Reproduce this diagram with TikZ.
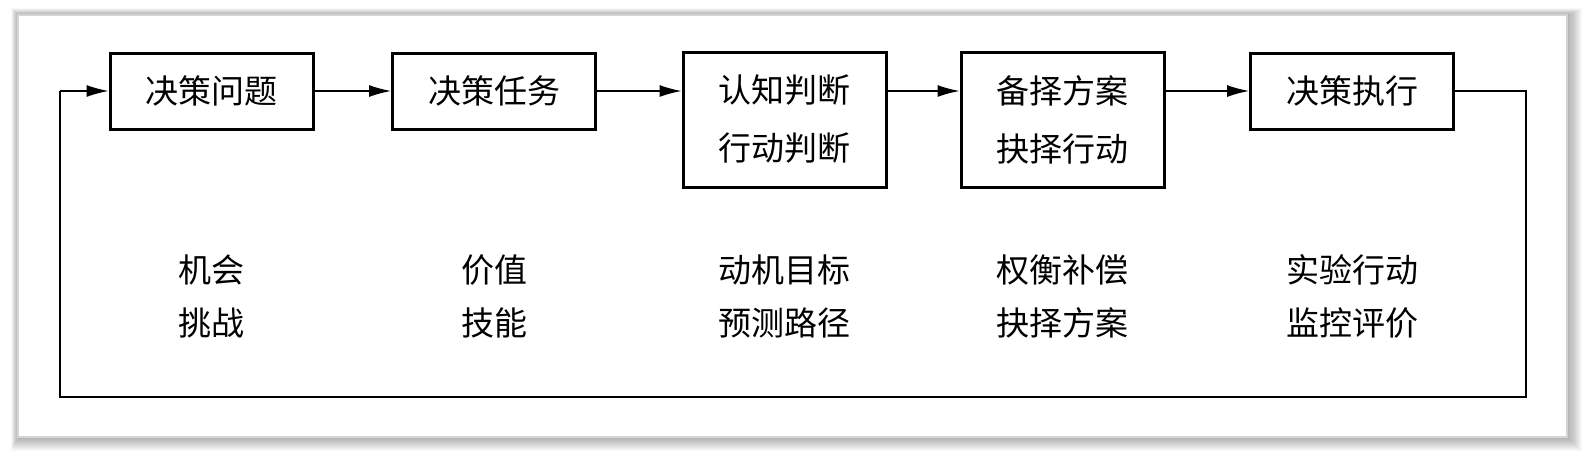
\documentclass[tikz,border=0pt]{standalone}
\usepackage{fontspec}
\newfontfamily\song{Noto Sans CJK SC}
\usetikzlibrary{arrows.meta}
\begin{document}
\begin{tikzpicture}[x=1pt,y=-1pt,
  box/.style={draw,line width=3pt,minimum height=76pt,minimum width=203pt,inner sep=0pt,align=center,font=\song\fontsize{33}{58}\selectfont},
  tallbox/.style={box,minimum height=135pt},
  lbl/.style={align=center,font=\song\fontsize{33}{53}\selectfont},
  conn/.style={line width=1.3pt,-{Latex[length=22pt,width=12pt]}},
  fb/.style={line width=1.3pt}]
\useasboundingbox (0,0) rectangle (1582,451);
\fill[white] (0,0) rectangle (1582,451);
% soft shadow
\foreach \i in {1,...,14}{
  \fill[black,opacity=0.022] (18-\i*0.5,15-\i*0.5) rectangle (1567+\i*1.1,437+\i*1.0);
}
\fill[white] (18,15) rectangle (1567,437);
\draw[line width=2pt,color=black!17] (18,15) rectangle (1567,437);

\node[box] (b1) at (211.5,91) {决策问题};
\node[box] (b2) at (494,91) {决策任务};
\node[tallbox] (b3) at (784.5,119.5) {认知判断\\行动判断};
\node[tallbox] (b4) at (1062.5,119.5) {备择方案\\抉择行动};
\node[box] (b5) at (1352,91) {决策执行};

\coordinate (l3) at (b3.west |- b1.east);
\coordinate (r3) at (b3.east |- b1.east);
\coordinate (l4) at (b4.west |- b1.east);
\coordinate (r4) at (b4.east |- b1.east);
\draw[conn] (b1.east) -- (b2.west);
\draw[conn] (b2.east) -- (l3);
\draw[conn] (r3) -- (l4);
\draw[conn] (r4) -- (b5.west);

\coordinate (c1) at (1526,91);
\coordinate (c2) at (1526,397);
\coordinate (c3) at (60,397);
\coordinate (c4) at (60,91);
\draw[fb] (b5.east) -- (c1) -- (c2) -- (c3) -- (c4);
\draw[conn] (c4) -- (b1.west);

\node[lbl] (t1) at (211.5,296) {机会\\挑战};
\node[lbl] (t2) at (494,296) {价值\\技能};
\node[lbl] (t3) at (784.5,296) {动机目标\\预测路径};
\node[lbl] (t4) at (1062.5,296) {权衡补偿\\抉择方案};
\node[lbl] (t5) at (1352,296) {实验行动\\监控评价};
\end{tikzpicture}
\end{document}
